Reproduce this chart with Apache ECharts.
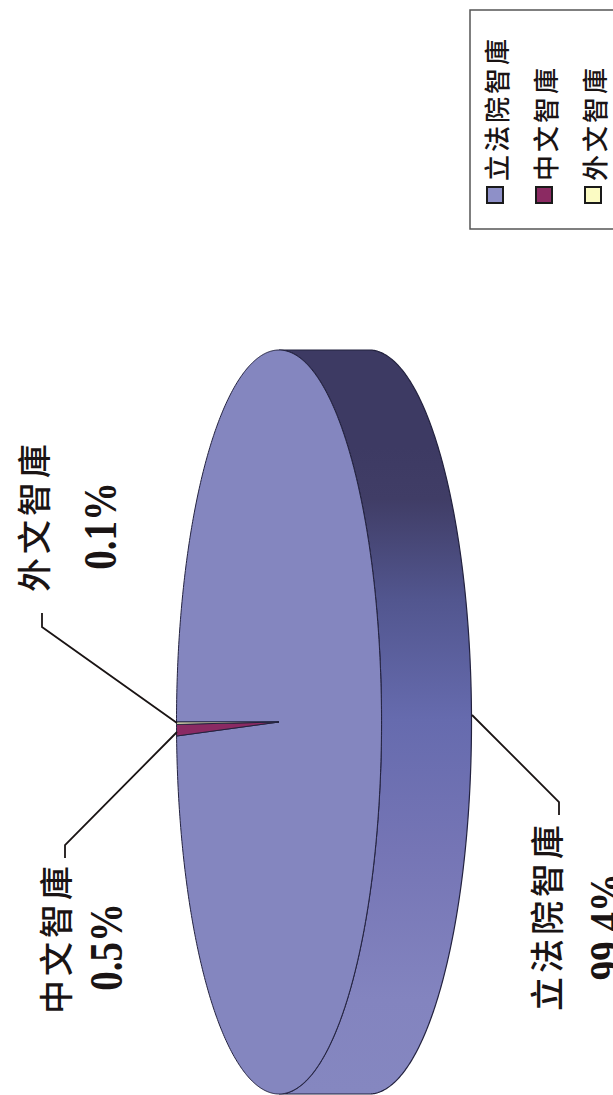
<!DOCTYPE html>
<html>
<head>
<meta charset="utf-8">
<style>
html,body{margin:0;padding:0;width:613px;height:1095px;overflow:hidden;background:#fff}
#frame{position:absolute;left:0;top:0;width:613px;height:1095px;overflow:hidden}
#chart{position:absolute;left:0;top:0;width:1095px;height:613px;transform-origin:0 0;transform:translate(0,1095px) rotate(-90deg)}
#chart text[style*="CJK"]{letter-spacing:4px}
#chart text[style*="26px"]{letter-spacing:3px}
</style>
<script src="https://cdn.jsdelivr.net/npm/echarts@6/dist/echarts.min.js"></script>
</head>
<body>
<div id="frame"><div id="chart"></div></div>
<script>
// Data
const categories = ['立法院智庫', '中文智庫', '外文智庫'];
const shares = [99.4, 0.5, 0.1];
const percentLabels = ['99.4%', '0.5%', '0.1%'];
const sliceColors = ['#8486bf', '#8a2a63', '#f8f8c0'];
const legendColors = ['#8e90c8', '#8b2a62', '#fbfbc3'];

// Layout (the chart is drawn landscape and the frame is turned a quarter turn)
const CX = 373, CY = 279, RX = 372, RY = 102.5, DEPTH = 90;
const leaderLines = [
  [[380, 472], [293, 559], [280, 559]],
  [[363, 177], [250, 65], [237, 65]],
  [[372, 177], [468, 42], [482, 42]]
];
const namePos = [[274, 545.5], [233, 54], [655, 32]];
const pctPos = [[222, 606], [192, 106], [613, 100]];
const sideStops = [
  [0, '#8587c0'], [0.127, '#8384bf'], [0.328, '#7575b5'], [0.503, '#666bae'],
  [0.664, '#52568f'], [0.80, '#403d66'], [0.87, '#3d3a63'], [1, '#3d3a63']
];

const total = shares.reduce((a, b) => a + b, 0);
const starts = shares.map((_, i) => shares.slice(0, i).reduce((a, b) => a + b, 0));

function pt(theta, dy) {
  return [CX + RX * Math.sin(theta), CY - RY * Math.cos(theta) + (dy || 0)];
}
function arc(a0, a1, dy) {
  const n = Math.max(2, Math.ceil(Math.abs(a1 - a0) / 0.01));
  const out = [];
  for (let k = 0; k <= n; k++) out.push(pt(a0 + (a1 - a0) * k / n, dy));
  return out;
}

function renderSlice(index) {
  return function (params, api) {
    const value = api.value(0);
    const a0 = starts[index] / total * Math.PI * 2;
    const a1 = (starts[index] + value) / total * Math.PI * 2;
    const children = [];
    const s0 = Math.max(a0, Math.PI / 2), s1 = Math.min(a1, Math.PI * 1.5);
    if (s1 > s0) {
      const top = arc(s0, s1, 0);
      const bottom = arc(s1, s0, DEPTH);
      children.push({
        type: 'polygon',
        shape: { points: top.concat(bottom) },
        style: {
          fill: {
            type: 'linear', x: 0, y: 0, x2: 1, y2: 0,
            colorStops: sideStops.map(s => ({ offset: s[0], color: s[1] }))
          },
          stroke: '#23223f', lineWidth: 1.2
        }
      });
    }
    children.push({
      type: 'polygon',
      shape: { points: [[CX, CY]].concat(arc(a0, a1, 0)) },
      style: { fill: sliceColors[index], stroke: '#23223f', lineWidth: 1 }
    });
    children.push({
      type: 'polyline', z2: 20,
      shape: { points: leaderLines[index] },
      style: { fill: null, stroke: '#1a1414', lineWidth: 1.8 }
    });
    children.push({
      type: 'text', z2: 20,
      style: {
        x: namePos[index][0], y: namePos[index][1], text: categories[index],
        align: 'right', verticalAlign: 'middle', fill: '#1a1414',
        font: '500 34px "Noto Sans CJK TC"'
      }
    });
    children.push({
      type: 'text', z2: 20,
      x: pctPos[index][0], y: pctPos[index][1], scaleY: 1.18,
      style: {
        x: 0, y: 0, text: percentLabels[index],
        align: 'right', verticalAlign: 'middle', fill: '#1a1414',
        font: 'bold 39px "Liberation Serif"'
      }
    });
    return { type: 'group', children };
  };
}

const chart = echarts.init(document.getElementById('chart'), null, { width: 1095, height: 613, renderer: 'svg' });
chart.setOption({
  animation: false,
  backgroundColor: '#fff',
  legend: {
    orient: 'vertical', left: 866, top: 470, height: 400, icon: 'rect',
    itemWidth: 16, itemHeight: 16, itemGap: 23,
    padding: [12, 41, 50, 25],
    selectedMode: false,
    borderColor: '#555', borderWidth: 1.5,
    data: categories,
    itemStyle: { borderColor: '#1a1a1a', borderWidth: 2 },
    textStyle: { fontFamily: '"Noto Sans CJK TC"', fontSize: 26, fontWeight: 500, color: '#1a1414', padding: [0, 0, 0, 1] }
  },
  series: categories.map((name, i) => ({
    type: 'custom',
    name,
    coordinateSystem: 'none',
    silent: true,
    clip: false,
    z: 2 + i,
    itemStyle: { color: legendColors[i] },
    data: [[shares[i]]],
    renderItem: renderSlice(i)
  }))
});
</script>
</body>
</html>
